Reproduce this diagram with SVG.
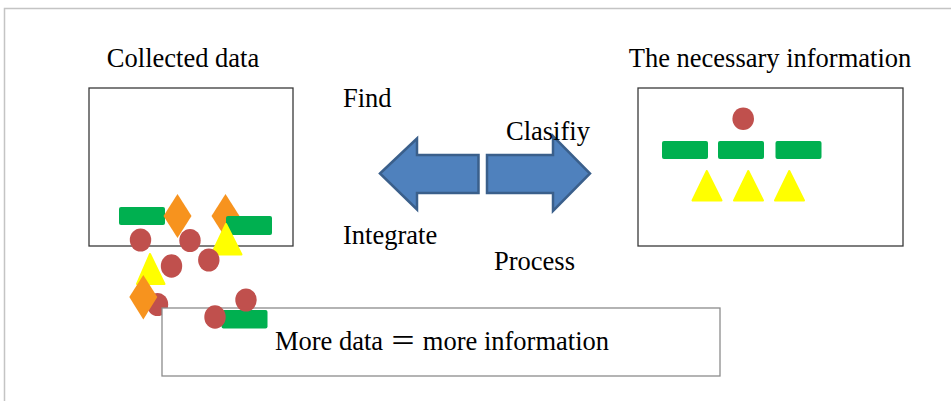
<svg xmlns="http://www.w3.org/2000/svg" width="951" height="401" viewBox="0 0 951 401">
  <style>
    .lbl { font-family: "Liberation Serif", "Times New Roman", "Noto Sans CJK SC", serif; font-size: 26.5px; fill: #000; }
    .box { fill: #fff; stroke: #3a3a3a; stroke-width: 1.3; }
    .note { fill: #fff; stroke: #8c8c8c; stroke-width: 1.3; }
    .bar { fill: #00B050; }
    .dot { fill: #C0504D; }
    .gem { fill: #F7931E; }
    .tri { fill: #FFFF00; stroke: #FFFF00; stroke-width: 2; stroke-linejoin: round; }
    .arrow { fill: #4F81BD; stroke: #3A5F8B; stroke-width: 2.5; stroke-linejoin: miter; }
  </style>

  <rect width="951" height="401" fill="#fff"/>
  <!-- page frame -->
  <path d="M4.5 401 V8.5 H951" fill="none" stroke="#c4c4c4" stroke-width="1.5"/>

  <!-- left panel: collected data -->
  <g id="collected-data">
    <text class="lbl" x="183" y="67" text-anchor="middle">Collected data</text>
    <rect class="box" x="89" y="88" width="204" height="158"/>
    <rect class="bar" x="119" y="207" width="46" height="18" rx="2"/>
    <polygon class="gem" points="177.5,194 191.5,216 177.5,238 163.5,216"/>
    <polygon class="gem" points="225.5,194 239.5,216 225.5,238 211.5,216"/>
    <rect class="bar" x="226" y="216" width="46" height="19" rx="2"/>
    <polygon class="tri" points="226,224 211.5,254.5 241.5,254.5"/>
    <ellipse class="dot" cx="140.5" cy="240" rx="10.7" ry="11.5"/>
    <ellipse class="dot" cx="190" cy="240.5" rx="10.7" ry="11.5"/>
    <ellipse class="dot" cx="171.5" cy="266" rx="10.7" ry="11.8"/>
    <ellipse class="dot" cx="208.8" cy="260" rx="10.7" ry="11.5"/>
    <polygon class="tri" points="150,254 137,284 164.5,284"/>
    <ellipse class="dot" cx="157.5" cy="304.5" rx="10.7" ry="11.5"/>
    <polygon class="gem" points="143.3,275 157.3,297 143.3,319.5 129.3,297"/>
  </g>

  <!-- bottom note -->
  <g id="more-data">
    <rect class="note" x="162" y="308" width="558" height="68"/>
    <rect class="bar" x="221.5" y="310" width="46" height="18.5" rx="2"/>
    <ellipse class="dot" cx="246" cy="300" rx="10.7" ry="11.5"/>
    <ellipse class="dot" cx="215" cy="317" rx="10.7" ry="11.8"/>
    <text class="lbl" x="442" y="350" text-anchor="middle">More data ＝ more information</text>
  </g>

  <!-- right panel: the necessary information -->
  <g id="necessary-information">
    <text class="lbl" x="770" y="67" text-anchor="middle">The necessary information</text>
    <rect class="box" x="638" y="88" width="265" height="158"/>
    <ellipse class="dot" cx="743.2" cy="118.7" rx="10.8" ry="11.3"/>
    <rect class="bar" x="662" y="141" width="46" height="18" rx="2"/>
    <rect class="bar" x="718" y="141" width="46" height="18" rx="2"/>
    <rect class="bar" x="775.5" y="141" width="46" height="18" rx="2"/>
    <polygon class="tri" points="706.8,171 692.5,200.5 721.5,200.5"/>
    <polygon class="tri" points="748.3,171 734,200.5 763,200.5"/>
    <polygon class="tri" points="789.3,171 775,200.5 804,200.5"/>
  </g>

  <!-- connectors: the two block arrows and their labels -->
  <g id="connectors">
    <path class="arrow" d="M380,173.5 L417,138.5 L417,155 L478.5,155 L478.5,193 L417,193 L417,209.5 Z"/>
    <path class="arrow" d="M487,155 L553,155 L553,136 L590,173.5 L553,211 L553,193 L487,193 Z"/>
    <text class="lbl" x="343" y="107">Find</text>
    <text class="lbl" x="506" y="140">Clasifiy</text>
    <text class="lbl" x="343" y="244">Integrate</text>
    <text class="lbl" x="494" y="270">Process</text>
  </g>
</svg>
